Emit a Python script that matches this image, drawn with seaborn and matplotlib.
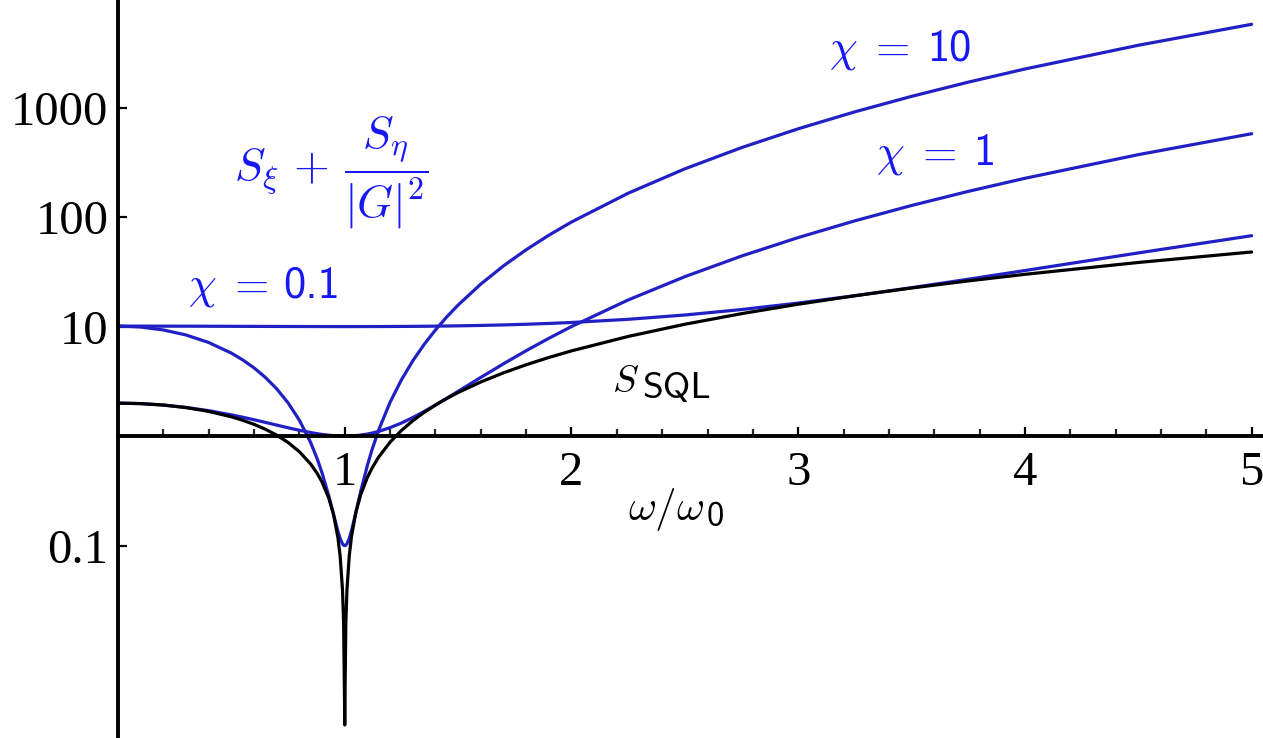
import matplotlib
matplotlib.use("Agg")
import matplotlib.pyplot as plt
from matplotlib.ticker import FixedLocator, NullLocator, NullFormatter
import seaborn as sns
import pandas as pd

# frequency axis, omega / omega_0
omega = [0, 0.1, 0.2, 0.3, 0.4, 0.5, 0.55, 0.6, 0.65, 0.7, 0.75, 0.8, 0.85, 0.88, 0.9,
         0.93, 0.95, 0.97, 0.98, 0.99, 0.995, 0.999, 1.0,
         1.001, 1.005, 1.01, 1.02, 1.03, 1.05, 1.07, 1.1,
         1.12, 1.15, 1.2, 1.25, 1.3, 1.35, 1.4, 1.45, 1.5,
         1.6, 1.7, 1.8, 1.9, 2.0,
         2.25, 2.5, 2.75, 3.0, 3.25, 3.5, 3.75, 4.0, 4.5, 5.0]

# standard quantum limit
s_sql = [2, 1.98, 1.92, 1.82, 1.68, 1.5, 1.395, 1.28, 1.155, 1.02, 0.875, 0.72, 0.555, 0.4512, 0.38,
         0.2702, 0.195, 0.1182, 0.0792, 0.0398, 0.01995, 0.004, 0.0023,
         0.004, 0.02005, 0.0402, 0.0808, 0.1218, 0.205, 0.2898, 0.42,
         0.5088, 0.645, 0.88, 1.125, 1.38, 1.645, 1.92, 2.205, 2.5,
         3.12, 3.78, 4.48, 5.22, 6,
         8.125, 10.5, 13.125, 16, 19.125, 22.5, 26.125, 30, 38.5, 48]

# total added noise for three coupling strengths
noise_chi_01 = [10.1, 10.098, 10.092, 10.083, 10.071, 10.056, 10.049, 10.041, 10.033, 10.026, 10.019, 10.013, 10.008, 10.005, 10.004,
                10.002, 10.001, 10.0, 10.0, 10.0, 10.0, 10.0, 10.0,
                10.0, 10.0, 10.0, 10.0, 10.0, 10.001, 10.002, 10.004,
                10.006, 10.010, 10.019, 10.032, 10.048, 10.068, 10.092, 10.122, 10.156,
                10.243, 10.357, 10.502, 10.681, 10.9,
                11.65, 12.756, 14.307, 16.4, 19.144, 22.656, 27.063, 32.5, 47.056, 67.6]

noise_chi_1 = [2, 1.98, 1.922, 1.828, 1.706, 1.563, 1.487, 1.41, 1.334, 1.26, 1.191, 1.13, 1.077, 1.051, 1.036,
               1.018, 1.0095, 1.0035, 1.0016, 1.0004, 1.0001, 1.0, 1.0,
               1.0, 1.0001, 1.0004, 1.0016, 1.0037, 1.0105, 1.021, 1.044,
               1.065, 1.104, 1.194, 1.316, 1.476, 1.677, 1.922, 2.216, 2.563,
               3.434, 4.572, 6.018, 7.812, 10,
               17.504, 28.563, 44.066, 65, 92.441, 127.56, 171.63, 226, 371.56, 577]

noise_chi_10 = [10.1, 9.901, 9.316, 8.381, 7.156, 5.725, 4.965, 4.196, 3.435, 2.701, 2.014, 1.396, 0.870, 0.609, 0.461,
                0.2825, 0.195, 0.1349, 0.1157, 0.104, 0.101, 0.1, 0.1,
                0.1, 0.101, 0.104, 0.1163, 0.1371, 0.205, 0.310, 0.541,
                0.747, 1.140, 2.036, 3.264, 4.861, 6.865, 9.316, 12.255, 15.725,
                24.436, 35.821, 50.276, 68.221, 90.1,
                165.14, 275.73, 430.76, 640.1, 914.51, 1265.7, 1706.4, 2250.1, 3705.7, 5760.1]

x_ticks = [1, 2, 3, 4, 5]
x_minor = [0.2, 0.4, 0.6, 0.8, 1.2, 1.4, 1.6, 1.8, 2.2, 2.4, 2.6, 2.8,
           3.2, 3.4, 3.6, 3.8, 4.2, 4.4, 4.6, 4.8]
y_ticks = [0.1, 10, 100, 1000]
y_labels = ["0.1", "10", "100", "1000"]

sns.set_style("white")
plt.rcParams["font.family"] = ["Liberation Serif", "DejaVu Serif"]
plt.rcParams["mathtext.fontset"] = "cm"

LINE_BLUE = "#2020c4"
TEXT_BLUE = "#1818f5"
SANS = ["cmss10", "DejaVu Sans"]

fig = plt.figure(figsize=(12.63, 7.38), dpi=100)
ax = fig.add_axes([118 / 1263, 0.0, 1 - 118 / 1263, 1.0])

curves = pd.DataFrame({
    "omega": omega,
    "chi10": noise_chi_10,
    "chi1": noise_chi_1,
    "chi01": noise_chi_01,
    "sql": s_sql,
})

for col in ["chi10", "chi1", "chi01"]:
    sns.lineplot(data=curves, x="omega", y=col, ax=ax, color=LINE_BLUE, lw=2.3,
                 estimator=None, sort=False)
sns.lineplot(data=curves, x="omega", y="sql", ax=ax, color="black", lw=2.3,
             estimator=None, sort=False)

ax.set_yscale("log")
ax.set_xlim(0, 5.05)
ax.set_ylim(0.00175, 9600)

# axes crossing at (0, 1)
for side in ["top", "right"]:
    ax.spines[side].set_visible(False)
ax.spines["bottom"].set_position(("data", 1))
ax.spines["left"].set_position(("data", 0))
for side in ["bottom", "left"]:
    ax.spines[side].set_linewidth(2.8)
    ax.spines[side].set_color("black")

ax.xaxis.set_major_locator(FixedLocator(x_ticks))
ax.xaxis.set_minor_locator(FixedLocator(x_minor))
ax.set_xticklabels([str(t) for t in x_ticks])
ax.yaxis.set_major_locator(FixedLocator(y_ticks))
ax.yaxis.set_minor_locator(NullLocator())
ax.yaxis.set_minor_formatter(NullFormatter())
ax.set_yticklabels(y_labels)

ax.tick_params(axis="x", which="both", bottom=True, top=False)
ax.tick_params(axis="y", which="both", left=True, right=False)
ax.tick_params(axis="x", which="major", direction="in", length=6.5, width=1.6,
               labelsize=35, pad=11, colors="black")
ax.tick_params(axis="x", which="minor", direction="in", length=5, width=1.6)
ax.tick_params(axis="y", which="major", direction="in", length=6.5, width=1.6,
               labelsize=35, pad=7, colors="black")
ax.set_xlabel("")
ax.set_ylabel("")


def split_label(x_math, x_sans, y_math, y_sans, math, sans, color, size, sans_size=None):
    """Math-italic part right-aligned, upright sans part left-aligned, both on baselines."""
    ax.text(x_math, y_math, math, color=color, fontsize=size,
            ha="right", va="baseline")
    ax.text(x_sans, y_sans, sans, color=color, fontsize=sans_size or size,
            family=SANS, ha="left", va="baseline")


split_label(3.489, 3.570, 2716, 2716, r"$\chi\;=$", "10", TEXT_BLUE, 32)
split_label(3.697, 3.770, 298.5, 298.5, r"$\chi\;=$", "1", TEXT_BLUE, 32)
split_label(0.6625, 0.730, 18.6, 18.6, r"$\chi\;=$", "0.1", TEXT_BLUE, 32)
split_label(2.297, 2.314, 2.52, 2.22, r"$S$", "SQL", "black", 28, 27)
split_label(2.588, 2.597, 0.171, 0.151, r"$\omega/\omega$", "0", "black", 31, 25)

ax.text(0.941, 252, r"$S_\xi\,+\,\dfrac{S_\eta}{|G|^{2}}$", color=TEXT_BLUE,
        fontsize=33, ha="center", va="center")

fig.savefig("out.png", dpi=100, facecolor="white")
